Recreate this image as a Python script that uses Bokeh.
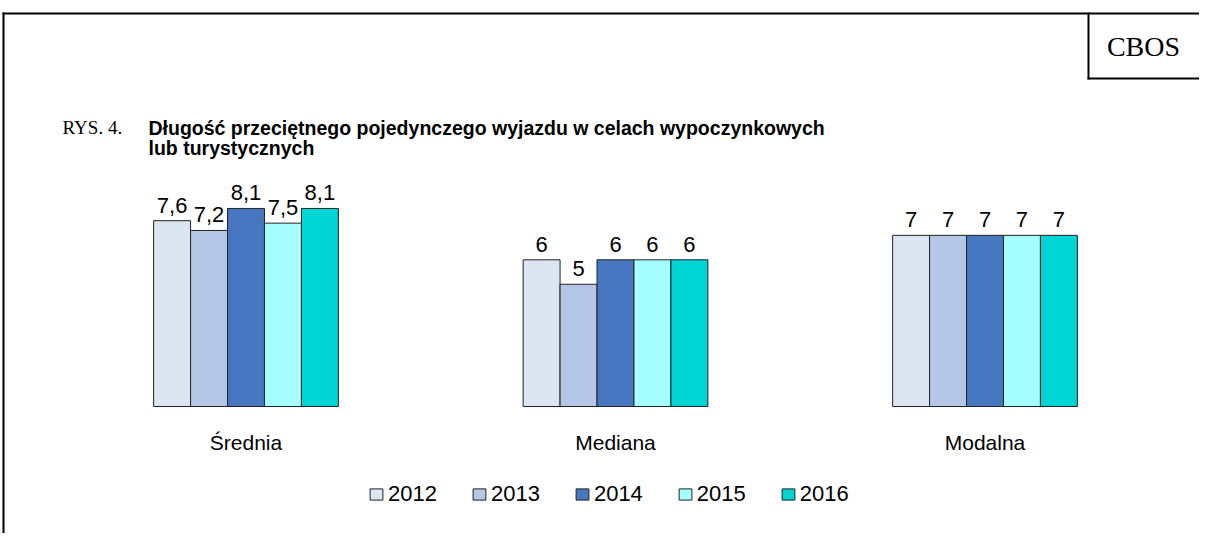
from bokeh.plotting import figure
from bokeh.models import ColumnDataSource, Range1d, Label, Legend, LegendItem, BoxAnnotation
from bokeh.transform import dodge
from bokeh.core.properties import value
from bokeh.embed import file_html
from bokeh.resources import INLINE

categories = ["Średnia", "Mediana", "Modalna"]
years = ["2012", "2013", "2014", "2015", "2016"]
v2012 = [7.6, 6, 7]
v2013 = [7.2, 5, 7]
v2014 = [8.1, 6, 7]
v2015 = [7.5, 6, 7]
v2016 = [8.1, 6, 7]
series = [v2012, v2013, v2014, v2015, v2016]
colors = ["#dce6f2", "#b4c7e7", "#4677c0", "#a6ffff", "#00d5d6"]

def fmt(v):
    return str(int(v)) if float(v).is_integer() else str(v).replace(".", ",")

W, H = 1199, 533
# layout: group spacing 369.5 px, first group centre at 245.5 px, baseline at 406 px, 24.45 px per unit
GAP, X0, BASE, PPU = 369.5, 245.5, 406, 24.45
p = figure(x_range=Range1d(-X0 / GAP, (W - X0) / GAP),
           y_range=Range1d(-(H - BASE) / PPU, BASE / PPU),
           width=W, height=H, output_backend="svg", toolbar_location=None,
           x_axis_location=None, y_axis_location=None,
           min_border=0)
p.outline_line_color = None
p.grid.visible = False

idx = list(range(len(categories)))
items = []
offsets = [-0.2, -0.1, 0.0, 0.1, 0.2]
for yr, vals, col, off in zip(years, series, colors, offsets):
    src = ColumnDataSource(dict(idx=idx, val=vals, lab=[fmt(v) for v in vals]))
    r = p.vbar(x=dodge("idx", off), top="val", width=0.1, source=src,
               fill_color=col, line_color="#222222", line_width=1)
    p.text(x=dodge("idx", off), y="val", text="lab", source=src,
           text_align="center", text_baseline="bottom", y_offset=-8,
           text_font=value("Liberation Sans"), text_font_size="22px", text_color="#000000")
    items.append(LegendItem(label=yr, renderers=[r]))

# category labels under the groups
csrc = ColumnDataSource(dict(idx=idx, cat=categories, zero=[0] * len(categories)))
p.text(x="idx", y="zero", text="cat", source=csrc, text_align="center", text_baseline="middle",
       y_offset=36, text_font=value("Liberation Sans"), text_font_size="21px", text_color="#000000")

legend = Legend(items=items, orientation="horizontal", location=(368, H - 507),
                label_text_font="Liberation Sans", label_text_font_size="22px", label_text_color="#000000",
                glyph_width=16, glyph_height=14, spacing=34, label_standoff=4,
                border_line_color=None, background_fill_alpha=0, padding=0, margin=0)
p.add_layout(legend, "center")

def sy(y):
    return H - y

SCR = dict(left_units="screen", right_units="screen", top_units="screen", bottom_units="screen")

def rule(l, r, t, b):
    p.add_layout(BoxAnnotation(left=l, right=r, top=sy(t), bottom=sy(b), fill_color="black",
                               fill_alpha=1, line_alpha=0, **SCR))

rule(2, W, 12, 14)        # outer top rule
rule(2, 4, 12, H)         # outer left rule
rule(1087, 1089, 12, 79)  # CBOS box left
rule(1087, W, 77, 79)     # CBOS box bottom

p.add_layout(Label(x=62, y=sy(127), x_units="screen", y_units="screen", text="RYS. 4.",
                   text_font="Liberation Serif", text_font_size="19px", text_color="black",
                   text_baseline="middle"))
p.add_layout(Label(x=148, y=sy(127), x_units="screen", y_units="screen",
                   text="Długość przeciętnego pojedynczego wyjazdu w celach wypoczynkowych",
                   text_font="Liberation Sans", text_font_style="bold", text_font_size="19.5px",
                   text_color="black", text_baseline="middle"))
p.add_layout(Label(x=148, y=sy(147), x_units="screen", y_units="screen",
                   text="lub turystycznych",
                   text_font="Liberation Sans", text_font_style="bold", text_font_size="19.5px",
                   text_color="black", text_baseline="middle"))
p.add_layout(Label(x=1143, y=sy(46), x_units="screen", y_units="screen", text="CBOS",
                   text_font="Liberation Serif", text_font_size="28px", text_align="center",
                   text_color="black", text_baseline="middle"))

open("out.html", "w").write(file_html(p, INLINE))
